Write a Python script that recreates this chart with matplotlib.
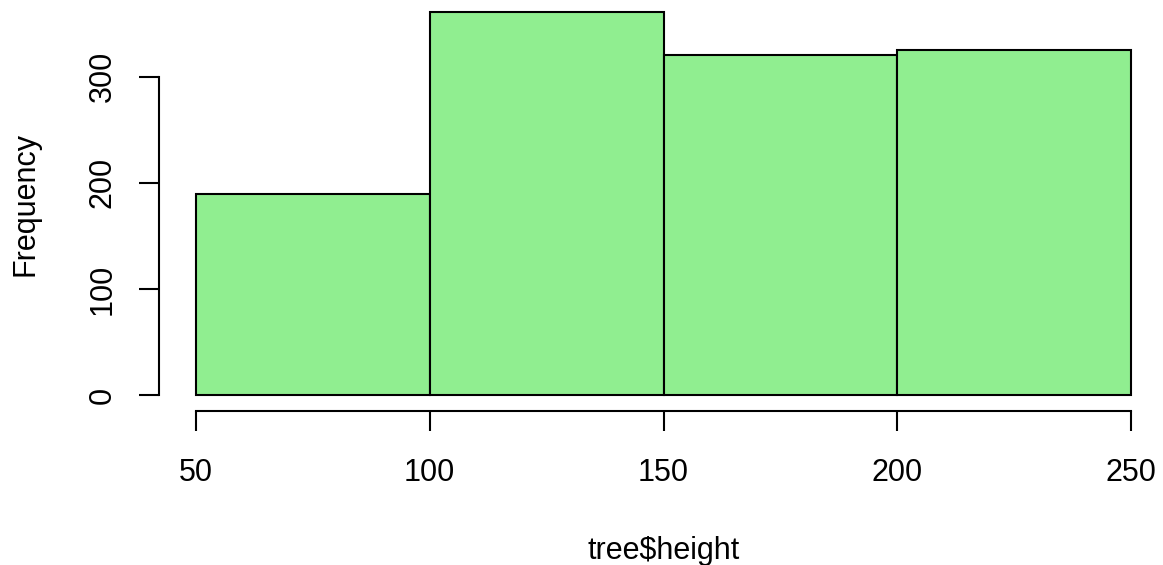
import numpy as np
import matplotlib
matplotlib.use("Agg")
import matplotlib.pyplot as plt

# histogram of tree$height, bins of width 50
bin_edges = [50, 100, 150, 200, 250]
counts = [190, 361, 320, 325]
x_ticks = [50, 100, 150, 200, 250]
y_ticks = [0, 100, 200, 300]

plt.rcParams['font.family'] = ['Liberation Sans', 'DejaVu Sans']

W, H = 1163, 565
fig = plt.figure(figsize=(W / 100, H / 100), dpi=100)

# R-style 4% axis expansion
x_lo, x_hi = min(bin_edges), max(bin_edges)
x_pad = 0.04 * (x_hi - x_lo)
y_hi = max(counts)
y_pad = 0.04 * y_hi

# plot region in pixels (from reference)
left_px, right_px = 158.6, 1168.4
bottom_px, top_px = 410.6, -3.4
ax = fig.add_axes([left_px / W, (H - bottom_px) / H,
                   (right_px - left_px) / W, (bottom_px - top_px) / H])

widths = np.diff(bin_edges)
ax.bar(bin_edges[:-1], counts, width=widths, align='edge',
       color='#90EE90', edgecolor='black', linewidth=1.5)

ax.set_xlim(x_lo - x_pad, x_hi + x_pad)
ax.set_ylim(-y_pad, y_hi + y_pad)

for side in ['top', 'right']:
    ax.spines[side].set_visible(False)
ax.spines['left'].set_bounds(y_ticks[0], y_ticks[-1])
ax.spines['bottom'].set_bounds(x_ticks[0], x_ticks[-1])
ax.spines['left'].set_linewidth(1.5)
ax.spines['bottom'].set_linewidth(1.5)

ax.set_xticks(x_ticks)
ax.set_yticks(y_ticks)
ax.tick_params(axis='both', length=14.4, width=1.5, labelsize=22)
ax.tick_params(axis='x', pad=20)
ax.tick_params(axis='y', pad=15)
plt.setp(ax.get_yticklabels(), rotation=90, va='center')

ax.set_xlabel('tree$height', fontsize=22, labelpad=34)
ax.set_ylabel('Frequency', fontsize=22, labelpad=34)

fig.savefig('out.png', dpi=100)
